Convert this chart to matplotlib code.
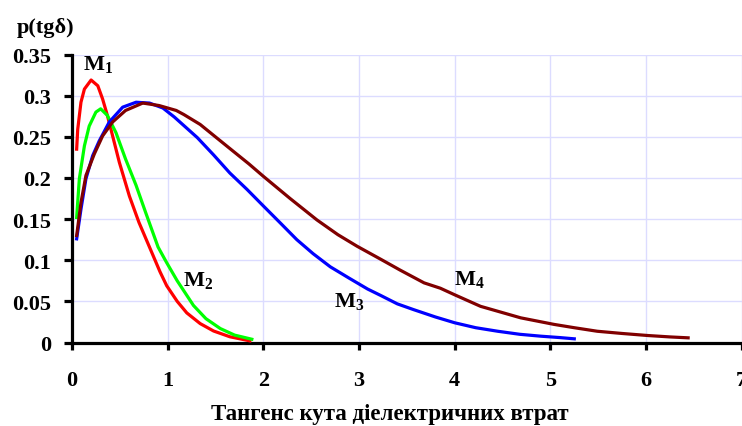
import matplotlib.pyplot as plt

plt.rcParams['font.family'] = ['Liberation Serif', 'DejaVu Serif']
plt.rcParams['font.weight'] = 'bold'
plt.rcParams['mathtext.fontset'] = 'custom'
plt.rcParams['mathtext.rm'] = 'Liberation Serif:bold'
plt.rcParams['mathtext.bf'] = 'Liberation Serif:bold'

# Distribution densities of the loss tangent for four materials
m1_x = [0.049, 0.06, 0.094, 0.13, 0.20, 0.27, 0.32, 0.37, 0.425, 0.495, 0.60,
        0.70, 0.81, 0.92, 0.99, 1.10, 1.20, 1.34, 1.48, 1.65, 1.86]
m1_y = [0.235, 0.259, 0.292, 0.308, 0.319, 0.312, 0.296, 0.276, 0.251, 0.219,
        0.178, 0.146, 0.116, 0.086, 0.069, 0.050, 0.036, 0.023, 0.014, 0.007,
        0.002]

m2_x = [0.049, 0.077, 0.13, 0.18, 0.25, 0.30, 0.37, 0.46, 0.56, 0.67, 0.77,
        0.90, 0.99, 1.10, 1.27, 1.40, 1.55, 1.70, 1.88]
m2_y = [0.152, 0.199, 0.239, 0.263, 0.280, 0.284, 0.276, 0.255, 0.223, 0.191,
        0.158, 0.116, 0.097, 0.075, 0.045, 0.029, 0.017, 0.009, 0.004]

m3_x = [0.049, 0.094, 0.146, 0.216, 0.285, 0.39, 0.53, 0.67, 0.81, 0.95, 1.07,
        1.31, 1.48, 1.65, 1.83, 2.00, 2.18, 2.35, 2.52, 2.70, 2.90, 3.09,
        3.23, 3.40, 3.57, 3.80, 4.00, 4.22, 4.45, 4.68, 4.90, 5.10, 5.25]
m3_y = [0.126, 0.162, 0.199, 0.227, 0.245, 0.268, 0.286, 0.292, 0.291, 0.285,
        0.274, 0.249, 0.228, 0.206, 0.186, 0.166, 0.145, 0.125, 0.108, 0.092,
        0.078, 0.065, 0.057, 0.047, 0.040, 0.031, 0.024, 0.018, 0.0137, 0.010,
        0.0077, 0.006, 0.0045]

m4_x = [0.049, 0.094, 0.146, 0.233, 0.32, 0.425, 0.56, 0.74, 0.91, 1.09, 1.17,
        1.34, 1.52, 1.69, 1.85, 2.00, 2.28, 2.56, 2.78, 2.98, 3.23, 3.43,
        3.68, 3.85, 4.00, 4.27, 4.48, 4.69, 5.04, 5.25, 5.49, 5.75, 6.02,
        6.25, 6.44]
m4_y = [0.130, 0.170, 0.203, 0.229, 0.251, 0.268, 0.282, 0.291, 0.288, 0.282,
        0.277, 0.265, 0.248, 0.232, 0.217, 0.202, 0.175, 0.149, 0.131, 0.117,
        0.101, 0.088, 0.0725, 0.066, 0.058, 0.044, 0.037, 0.030, 0.022, 0.018,
        0.0137, 0.011, 0.0085, 0.0068, 0.0057]

labels = [r'$\mathbf{M}_\mathbf{1}$', r'$\mathbf{M}_\mathbf{2}$',
          r'$\mathbf{M}_\mathbf{3}$', r'$\mathbf{M}_\mathbf{4}$']
label_pos = [(0.115, 0.332), (1.16, 0.069), (2.74, 0.044), (3.99, 0.071)]

fig = plt.figure(figsize=(7.42, 4.27), dpi=100)
ax = fig.add_axes([0.097, 0.1955, 0.9026, 0.6745])

ax.plot(m1_x, m1_y, color='#ff0000', lw=2.3, zorder=3)
ax.plot(m2_x, m2_y, color='#00ff00', lw=2.3, zorder=3)
ax.plot(m3_x, m3_y, color='#0000ff', lw=2.3, zorder=3)
ax.plot(m4_x, m4_y, color='#800000', lw=2.3, zorder=3)

for txt, (lx, ly) in zip(labels, label_pos):
    ax.text(lx, ly, txt, fontsize=16, ha='left', va='baseline')

ax.set_xlim(0, 7)
ax.set_ylim(0, 0.35)
ax.set_xticks(range(8))
ax.set_yticks([0, 0.05, 0.1, 0.15, 0.2, 0.25, 0.3, 0.35])
ax.set_yticklabels(['0', '0.05', '0.1', '0.15', '0.2', '0.25', '0.3', '0.35'])
ax.grid(True, color='#dcdcff', lw=1.0, zorder=0)
ax.set_axisbelow(True)

for side in ['top', 'right']:
    ax.spines[side].set_visible(False)
for side in ['left', 'bottom']:
    ax.spines[side].set_linewidth(2.3)
ax.tick_params(axis='y', direction='out', length=6, width=2.3, pad=9, labelsize=16)
ax.tick_params(axis='x', direction='out', length=5, width=2.3, pad=15, labelsize=16)
for lbl in ax.get_xticklabels() + ax.get_yticklabels():
    lbl.set_fontweight('bold')

ax.set_xlabel('Тангенс кута діелектричних втрат', fontsize=16.5, fontweight='bold',
              labelpad=9, x=0.475)
fig.text(0.023, 0.935, 'p(tgδ)', fontsize=16, fontweight='bold', ha='left', va='center')

fig.savefig('out.png', dpi=100)
